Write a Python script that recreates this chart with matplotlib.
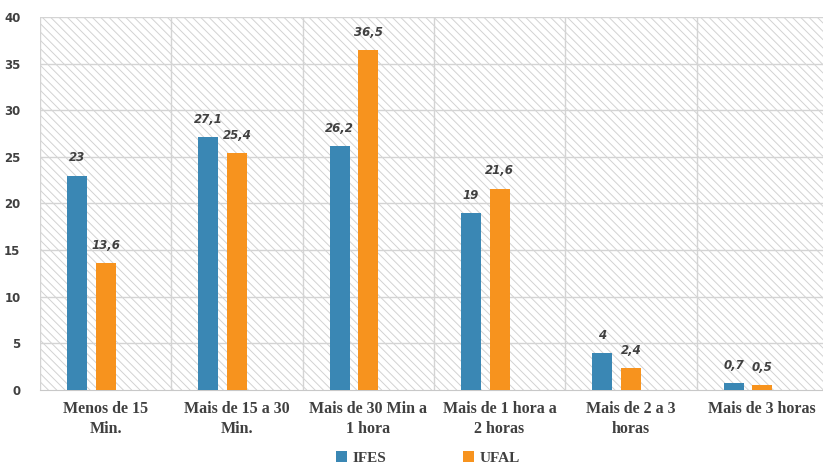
import matplotlib
matplotlib.use('Agg')  # Use non-interactive backend
import matplotlib.pyplot as plt
import numpy as np

categories = [
    "Menos de 15\nMin.",
    "Mais de 15 a 30\nMin.",
    "Mais de 30 Min a\n1 hora",
    "Mais de 1 hora a\n2 horas",
    "Mais de 2 a 3\nhoras",
    "Mais de 3 horas",
]
ifes = [23, 27.1, 26.2, 19, 4, 0.7]
ufal = [13.6, 25.4, 36.5, 21.6, 2.4, 0.5]
series_names = ["IFES", "UFAL"]
y_ticks = [0, 5, 10, 15, 20, 25, 30, 35, 40]

blue = "#3a87b4"
orange = "#f7931e"
text_color = "#404040"
grid_color = "#d4d4d4"

plt.rcParams["hatch.color"] = "#d2d2d2"
plt.rcParams["hatch.linewidth"] = 0.7

fig = plt.figure(figsize=(8.23, 4.74), dpi=100)
ax = fig.add_axes([40 / 823, 1 - 390 / 474, 1 - 40 / 823, (390 - 17) / 474])

# hatched background
ax.patch.set_facecolor("white")
ax.patch.set_hatch("\\\\\\\\")
ax.patch.set_edgecolor("#d2d2d2")
ax.patch.set_linewidth(0)

x = np.arange(len(categories))
offset = 0.217
width = 0.152

bars_ifes = ax.bar(x - offset, ifes, width, color=blue, label=series_names[0], zorder=3)
bars_ufal = ax.bar(x, ufal, width, color=orange, label=series_names[1], zorder=3)

for bars, vals in [(bars_ifes, ifes), (bars_ufal, ufal)]:
    for b, v in zip(bars, vals):
        label = f"{v:g}".replace(".", ",")
        ax.annotate(label, (b.get_x() + b.get_width() / 2, v),
                    xytext=(0, 8), textcoords="offset points",
                    ha="center", va="bottom", fontsize=8.5, fontweight="bold",
                    fontstyle="italic", color=text_color, family="DejaVu Sans")

ax.set_xlim(-0.5, -0.5 + 783 / 131.3)
ax.set_ylim(0, 40)
ax.set_yticks(y_ticks)
ax.set_yticklabels([str(t) for t in y_ticks], fontsize=8.5, fontweight="bold",
                   color=text_color, family="DejaVu Sans")

# horizontal grid + vertical separators between categories
ax.set_axisbelow(True)
for t in y_ticks[1:]:
    ax.axhline(t, color=grid_color, linewidth=1, zorder=1)
for b in np.arange(len(categories) + 1) - 0.5:
    ax.axvline(b, color=grid_color, linewidth=1, zorder=1)

ax.set_xticks(x)
ax.set_xticklabels(categories, fontsize=11.5, fontweight="bold", color=text_color,
                   family="Liberation Serif", linespacing=1.3)
ax.tick_params(axis="both", length=0)
ax.tick_params(axis="x", pad=8)
ax.tick_params(axis="y", pad=14)

for side in ["top", "right", "left"]:
    ax.spines[side].set_visible(False)
ax.spines["bottom"].set_color("#c8c8c8")

fig.legend(handles=[bars_ifes, bars_ufal], labels=series_names, loc="lower center",
           bbox_to_anchor=(0.52, -0.01), ncol=2, frameon=False, handlelength=0.7,
           handleheight=0.7, columnspacing=5, handletextpad=0.4,
           prop={"family": "Liberation Serif", "weight": "bold", "size": 11})
for t in fig.legends[0].get_texts():
    t.set_color(text_color)

fig.savefig("out.png", dpi=100)
